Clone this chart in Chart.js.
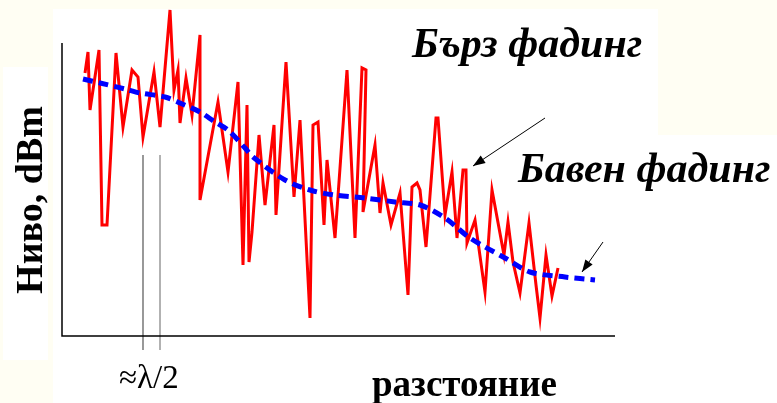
<!DOCTYPE html>
<html>
<head>
    <title>Бърз и бавен фадинг</title>
    <script src="https://cdn.jsdelivr.net/npm/chart.js"></script>
    <style>
        body { margin: 0; background: #fffef3; }
        .chart-container { width: 777px; height: 403px; }
    </style>
</head>
<body>
    <div class="chart-container">
        <canvas id="fadingChart" width="777" height="403"></canvas>
    </div>

    <script>
        // distance / level (arbitrary units)
        const fastDist = [23, 26, 28, 37, 40, 45, 54, 61, 70, 76, 81, 92, 98, 108, 112, 116, 118, 124, 130, 138, 138,
            156, 166, 176, 181, 185, 187, 190, 197, 203, 212, 214, 224, 232, 238, 248, 251, 256, 262, 265, 273,
            285, 293, 300, 304, 301, 313, 318, 321, 329, 338, 346, 350, 355, 358, 364, 374, 376, 383, 390, 395,
            401, 404, 405, 413, 423, 430, 442, 446, 451, 458, 467, 474, 478, 484, 490, 496];
        const fastLevel = [263, 284, 226, 286, 111, 111, 283, 209, 266, 259, 199, 264, 209, 326, 246, 266, 213, 258, 221, 301, 136,
            234, 164, 254, 71, 231, 74, 104, 201, 131, 211, 121, 274, 139, 216, 18, 211, 214, 111, 176, 98,
            266, 98, 268, 266, 124, 191, 123, 153, 111, 143, 41, 149, 153, 146, 89, 218, 218, 121, 164, 98,
            166, 166, 93, 116, 44, 146, 81, 114, 74, 43, 113, 51, 18, 81, 40, 68];

        const slowDist = [21, 38, 63, 78, 103, 118, 138, 153, 166, 183, 191, 223, 248, 272, 303, 333, 358, 383, 408, 443, 468, 503, 533];
        const slowLevel = [257, 253, 247, 243, 239, 233, 224, 214, 206, 188, 179, 156, 146, 141, 138, 134, 131, 118, 98, 78, 64, 59, 56];

        // the two marks for ~lambda/2
        const halfLambda = [81, 98];
        const markTop = 181, markBottom = -14;

        const toPoints = (xs, ys) => xs.map((x, i) => ({ x: x, y: ys[i] }));

        const decor = {
            id: 'decor',
            beforeDraw(chart) {
                const c = chart.ctx;
                c.save();
                c.fillStyle = '#fffef3';
                c.fillRect(0, 0, chart.width, chart.height);
                c.fillStyle = '#ffffff';
                c.fillRect(53, 9, 605, 394);
                c.fillRect(658, 135, 119, 268);
                c.fillRect(3, 67, 45, 293);
                c.restore();
            },
            afterDraw(chart) {
                const c = chart.ctx;
                const a = chart.chartArea;
                c.save();
                // axes
                c.strokeStyle = '#000';
                c.lineWidth = 1.5;
                c.beginPath();
                c.moveTo(62, 43);
                c.lineTo(62, a.bottom);
                c.lineTo(615, a.bottom);
                c.stroke();

                // arrows
                const arrow = (x1, y1, x2, y2) => {
                    c.lineWidth = 1;
                    c.beginPath();
                    c.moveTo(x1, y1);
                    c.lineTo(x2, y2);
                    c.stroke();
                    const ang = Math.atan2(y2 - y1, x2 - x1);
                    c.beginPath();
                    c.moveTo(x2, y2);
                    c.lineTo(x2 - 13 * Math.cos(ang - 0.35), y2 - 13 * Math.sin(ang - 0.35));
                    c.lineTo(x2 - 13 * Math.cos(ang + 0.35), y2 - 13 * Math.sin(ang + 0.35));
                    c.closePath();
                    c.fill();
                };
                c.fillStyle = '#000';
                arrow(545, 118, 473, 166);
                arrow(603, 242, 582, 272);

                // texts
                c.fillStyle = '#000';
                c.textBaseline = 'alphabetic';
                c.font = 'bold italic 42px "Liberation Serif"';
                c.textAlign = 'left';
                c.fillText('Бърз фадинг', 412, 57);
                c.fillText('Бавен фадинг', 518, 182);

                c.font = 'bold 37px "Liberation Serif"';
                c.fillText('разстояние', 372, 396);

                c.font = '33px "Liberation Serif"';
                c.fillText('≈λ/2', 119, 388);

                c.translate(42, 200);
                c.rotate(-Math.PI / 2);
                c.textAlign = 'center';
                c.font = 'bold 38px "Liberation Serif"';
                c.fillText('Ниво, dBm', 0, 0);
                c.restore();
            }
        };

        const ctx = document.getElementById('fadingChart').getContext('2d');
        const fadingChart = new Chart(ctx, {
            type: 'scatter',
            data: {
                datasets: [{
                    label: 'Бърз фадинг',
                    data: toPoints(fastDist, fastLevel),
                    showLine: true,
                    borderColor: '#ff0000',
                    borderWidth: 3,
                    pointRadius: 0,
                    tension: 0,
                    order: 2
                }, {
                    label: 'Бавен фадинг',
                    data: toPoints(slowDist, slowLevel),
                    showLine: true,
                    borderColor: '#0000ff',
                    borderWidth: 5,
                    borderDash: [10, 6],
                    pointRadius: 0,
                    tension: 0.3,
                    order: 1
                }, {
                    data: [{ x: halfLambda[0], y: markTop }, { x: halfLambda[0], y: markBottom }],
                    showLine: true,
                    borderColor: '#555555',
                    borderWidth: 1.2,
                    pointRadius: 0,
                    clip: false
                }, {
                    data: [{ x: halfLambda[1], y: markTop }, { x: halfLambda[1], y: markBottom }],
                    showLine: true,
                    borderColor: '#999999',
                    borderWidth: 1.5,
                    pointRadius: 0,
                    clip: false
                }]
            },
            options: {
                responsive: false,
                animation: false,
                layout: { padding: { left: 62, right: 162, top: 5, bottom: 67 } },
                plugins: { legend: { display: false }, tooltip: { enabled: false } },
                scales: {
                    x: { type: 'linear', display: false, min: 0, max: 553 },
                    y: { type: 'linear', display: false, min: 0, max: 331 }
                }
            },
            plugins: [decor]
        });
    </script>
</body>
</html>
